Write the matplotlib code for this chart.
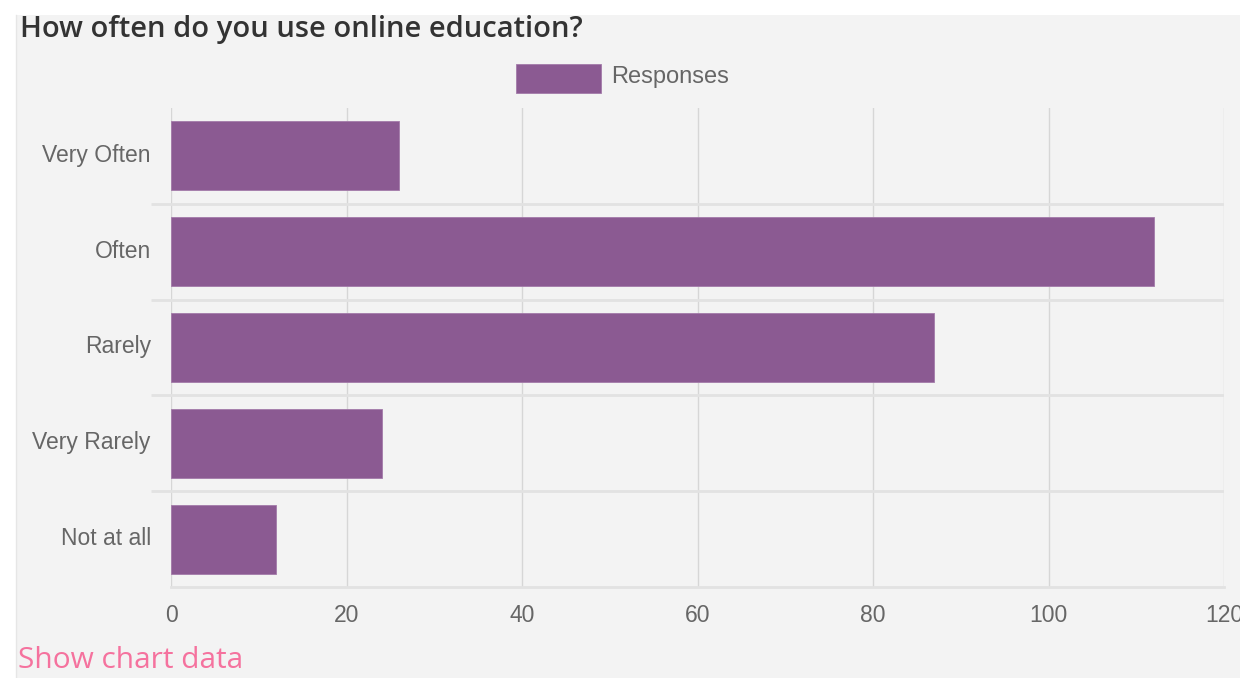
import matplotlib
matplotlib.use("Agg")
import matplotlib.pyplot as plt
import matplotlib.transforms as mtrans
from matplotlib.patches import Rectangle
from matplotlib.lines import Line2D

# survey answers, top to bottom
categories = ["Very Often", "Often", "Rarely", "Very Rarely", "Not at all"]
responses = [26, 112, 87, 24, 12]
x_ticks = [0, 20, 40, 60, 80, 100, 120]

PANEL = "#f3f3f3"
BAR = "#8b5a92"
GRID = "#d6d6d6"
SEP = "#e2e2e2"
LABEL = "#666666"

W, H = 1240, 678
fig = plt.figure(figsize=(W / 100, H / 100), dpi=100, facecolor="white")

# light grey card behind everything
fig.patches.append(Rectangle((16 / W, 0), 1 - 16 / W, 1 - 15 / H,
                             transform=fig.transFigure, facecolor=PANEL,
                             edgecolor="none", zorder=-2))
fig.lines.append(Line2D([16 / W, 16 / W], [0, 1 - 15 / H],
                        transform=fig.transFigure, color="#e6e6e6", lw=1,
                        zorder=-1))

ax = fig.add_axes([171 / W, 1 - 587 / H, (1224 - 171) / W, (587 - 108) / H])
ax.set_facecolor(PANEL)

y = range(len(categories))
ax.barh(y, responses, height=0.72, color=BAR, edgecolor="#a37aa9",
        linewidth=0.6, zorder=3)

ax.set_xlim(0, 120)
ax.set_ylim(len(categories) - 0.5, -0.5)
ax.set_xticks(x_ticks)
ax.set_xticklabels([str(t) for t in x_ticks])
ax.set_yticks(list(y))
ax.set_yticklabels(categories)

# separators between categories, sticking out to the left like ticks
ax.set_yticks([i + 0.5 for i in range(len(categories) - 1)], minor=True)
ax.tick_params(axis="y", which="minor", length=14.5, width=2, color=SEP)
ax.tick_params(axis="y", which="major", length=0, pad=14.5)
ax.tick_params(axis="x", which="major", length=0, pad=12)
ax.grid(axis="y", which="minor", color=SEP, lw=2, zorder=1)
ax.grid(axis="x", which="major", color=GRID, lw=1, zorder=1)

for lab in ax.get_xticklabels() + ax.get_yticklabels():
    lab.set_fontfamily("Liberation Sans")
    lab.set_fontsize(16.5)
    lab.set_color(LABEL)

# category names sit a touch above the bar centres
nudge = mtrans.ScaledTranslation(0, 3 / 100, fig.dpi_scale_trans)
for lab in ax.get_yticklabels():
    lab.set_transform(lab.get_transform() + nudge)

for name, sp in ax.spines.items():
    if name == "bottom":
        sp.set_color(SEP)
        sp.set_linewidth(2)
    else:
        sp.set_visible(False)

# legend swatch + label
fig.patches.append(Rectangle((516 / W, 1 - 93 / H), 85 / W, 29 / H,
                             transform=fig.transFigure, facecolor=BAR,
                             edgecolor="#a37aa9", lw=0.6, zorder=3))
fig.text(611 / W, 1 - 77 / H, "Responses", ha="left", va="center",
         fontsize=17, color=LABEL, family="Liberation Sans")

fig.text(20 / W, 1 - 29 / H, "How often do you use online education?",
         ha="left", va="center", fontsize=21, color="#333333",
         family="Open Sans", weight="semibold")
fig.text(18 / W, 1 - 661 / H, "Show chart data", ha="left", va="center",
         fontsize=21.5, color="#f5729e", family="Open Sans")

fig.savefig("out.png", dpi=100, facecolor="white")
